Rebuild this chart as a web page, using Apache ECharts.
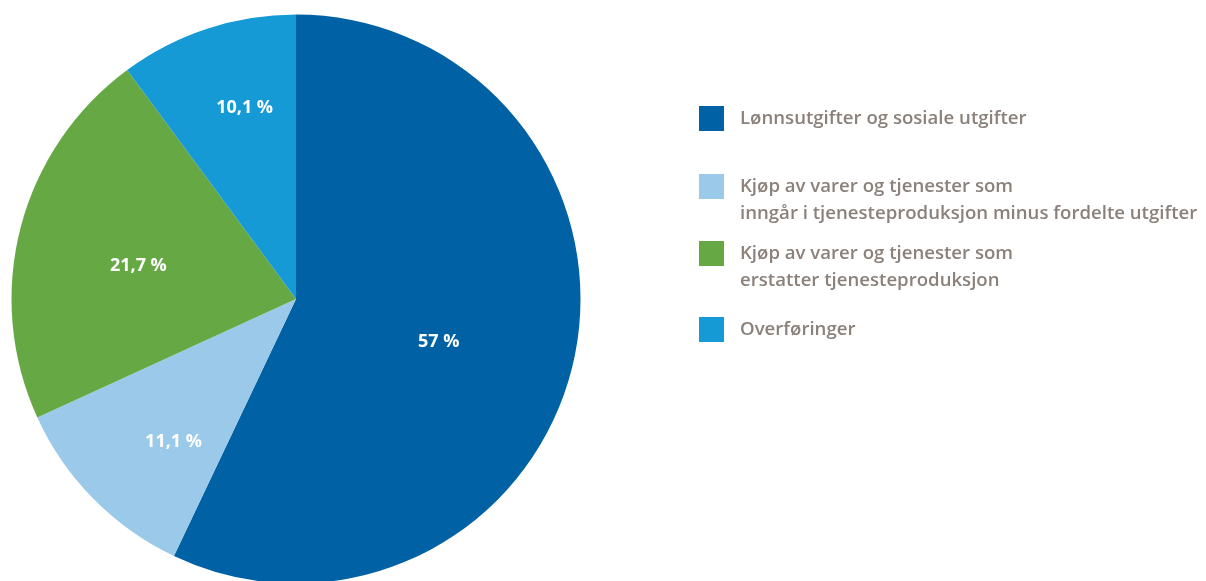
<!DOCTYPE html>
<html>
<head>
<meta charset="utf-8">
<style>
  html, body { margin: 0; padding: 0; background: #ffffff; }
  #chart { width: 1206px; height: 581px; }
</style>
<script src="https://cdn.jsdelivr.net/npm/echarts@6/dist/echarts.min.js"></script>
</head>
<body>
<div id="chart"></div>
<script>
// Fordeling av driftsutgifter (prosent)
const categories = [
  'Lønnsutgifter og sosiale utgifter',
  'Kjøp av varer og tjenester som\ninngår i tjenesteproduksjon minus fordelte utgifter',
  'Kjøp av varer og tjenester som\nerstatter tjenesteproduksjon',
  'Overføringer'
];
const shares = [57, 11.1, 21.7, 10.1];
const colors = ['#0061a5', '#9bc9e9', '#66a844', '#159ad6'];

// label nudges inside each slice
const labelOffsets = [[1, 11], [-19, 41], [-17, 3], [-6, -53]];
// legend rows (top of each row box)
const legendTops = [100, 141, 208, 311];

const chart = echarts.init(document.getElementById('chart'), null, { renderer: 'canvas' });

const pieData = categories.map((name, i) => ({
  name: name,
  value: shares[i],
  itemStyle: { color: colors[i] },
  label: { offset: labelOffsets[i] }
}));

const legends = categories.map((name, i) => ({
  data: [name],
  orient: 'vertical',
  left: 694,
  top: legendTops[i],
  icon: 'rect',
  itemWidth: 25,
  itemHeight: 25,
  selectedMode: false,
  // keep the first text line level with the square
  formatter: n => (n.indexOf('\n') >= 0 ? '\n' + n : n),
  textStyle: {
    color: '#8b817a',
    fontFamily: 'Open Sans',
    fontWeight: 600,
    fontSize: 18.6,
    lineHeight: 27,
    padding: [0, 0, 0, 11]
  }
}));

chart.setOption({
  animation: false,
  legend: legends,
  series: [{
    type: 'pie',
    center: [296, 299],
    radius: [0, 284.5],
    startAngle: 90,
    clockwise: true,
    avoidLabelOverlap: false,
    itemStyle: { borderWidth: 0 },
    label: {
      show: true,
      position: 'inside',
      color: '#ffffff',
      fontFamily: 'Open Sans',
      fontWeight: 700,
      fontSize: 18,
      formatter: p => String(p.value).replace('.', ',') + ' %'
    },
    labelLine: { show: false },
    emphasis: { disabled: true },
    data: pieData
  }]
});
</script>
</body>
</html>
